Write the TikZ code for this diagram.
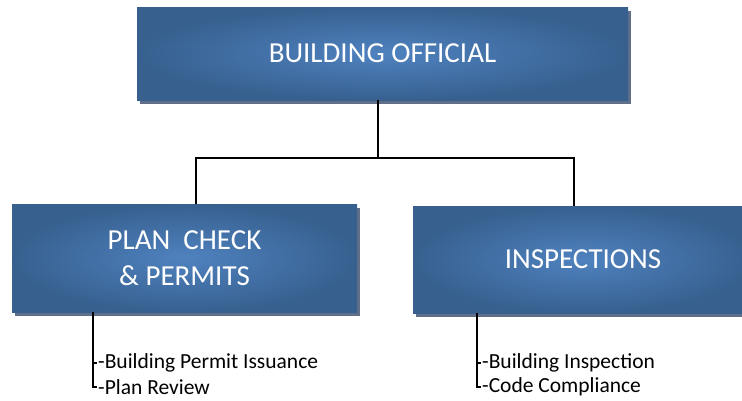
\documentclass[tikz,border=0pt]{standalone}
\usepackage{fontspec}
\setmainfont{Carlito}
\usetikzlibrary{shadows}
\definecolor{orgdark}{HTML}{37608F}
\definecolor{orglight}{HTML}{4F82BF}
\definecolor{orgshadow}{HTML}{5F6E89}

\tikzset{
  orgbox/.style={draw=none,shading=radial,inner color=orglight,outer color=orgdark,
    text=white,align=center,font=\fontsize{29}{36}\selectfont,
    drop shadow={shadow xshift=3pt,shadow yshift=-4pt,fill=orgshadow,opacity=1}},
  subitem/.style={anchor=west,inner sep=0pt,font=\fontsize{21.5}{24}\selectfont},
  orgline/.style={line width=1.5pt,black}
}

\begin{document}
\begin{tikzpicture}[x=1pt,y=-1pt]
  \useasboundingbox (0,0) rectangle (742,400);
  % boxes
  \node[orgbox,minimum width=491pt,minimum height=93pt] (official) at (382.5,53.5) {BUILDING OFFICIAL};
  \node[orgbox,minimum width=345pt,minimum height=108pt] (plan) at (184.5,258) {PLAN\ \ CHECK\\\& PERMITS};
  \node[orgbox,minimum width=340pt,minimum height=107pt] (insp) at (583,259.5) {INSPECTIONS};
  % junctions
  \coordinate (hub) at (378,158);
  \coordinate (ljoin) at (196,158);
  \coordinate (rjoin) at (574,158);
  \draw[orgline] (official.south -| hub) -- (hub);
  \draw[orgline] (ljoin |- plan.north) -- (ljoin) -- (rjoin) -- (rjoin |- insp.north);
  % duties
  \node[subitem] (plan1) at (98,363) {-Building Permit Issuance};
  \node[subitem] (plan2) at (98,387) {-Plan Review};
  \node[subitem] (insp1) at (482,363) {-Building Inspection};
  \node[subitem] (insp2) at (482,387) {-Code Compliance};
  \coordinate (lstem) at (93,0);
  \coordinate (rstem) at (477,0);
  \draw[orgline,shorten >=1.5pt] (lstem |- plan.south) |- (plan2.west);
  \draw[orgline,shorten >=1.5pt] (lstem |- plan1.west) -- (plan1.west);
  \draw[orgline,shorten >=1.5pt] (rstem |- insp.south) |- (insp2.west);
  \draw[orgline,shorten >=1.5pt] (rstem |- insp1.west) -- (insp1.west);
\end{tikzpicture}
\end{document}
